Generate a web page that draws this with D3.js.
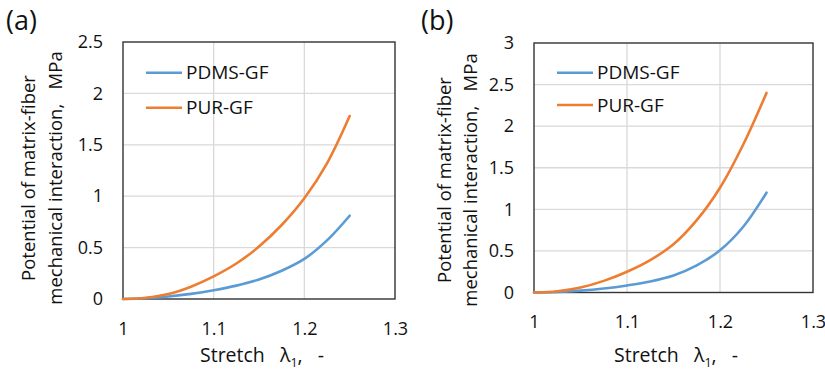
<!DOCTYPE html>
<html>
<head>
<meta charset="utf-8">
<script src="https://cdn.jsdelivr.net/npm/d3@7"></script>
<style>
  body { margin: 0; background: #fff; }
  text { font-family: "Open Sans", sans-serif; fill: #111; white-space: pre; }
</style>
</head>
<body>
<div class="svg-container"></div>
<script>
// stretch values (x) shared by both panels
let stretch = [1, 1.025, 1.05, 1.075, 1.1, 1.125, 1.15, 1.175, 1.2, 1.225, 1.25];

// panel (a)
let pdmsA = [0, 0.008, 0.025, 0.05, 0.085, 0.13, 0.19, 0.275, 0.39, 0.57, 0.81];
let purA  = [0, 0.012, 0.048, 0.12, 0.22, 0.345, 0.51, 0.72, 0.98, 1.32, 1.78];

// panel (b)
let pdmsB = [0, 0.006, 0.022, 0.048, 0.085, 0.133, 0.205, 0.326, 0.507, 0.79, 1.20];
let purB  = [0, 0.015, 0.06, 0.14, 0.25, 0.39, 0.58, 0.87, 1.26, 1.78, 2.40];

let seriesNames = ["PDMS-GF", "PUR-GF"];
let seriesColors = ["#5b9bd5", "#ed7d31"];
let xTicks = [1, 1.1, 1.2, 1.3];
let yTicksA = [0, 0.5, 1, 1.5, 2, 2.5];
let yTicksB = [0, 0.5, 1, 1.5, 2, 2.5, 3];

let width = 825;
let height = 371;

let svg = d3.select(".svg-container")
    .append("svg")
    .attr("width", width)
    .attr("height", height);

function drawPanel(p)
{
    let x = d3.scaleLinear().domain([1, 1.3]).range([p.left, p.right]);
    let y = d3.scaleLinear().domain([0, p.yMax]).range([p.bottom, p.top]);

    let g = svg.append("g");

    // gridlines
    g.append("g").selectAll("line.gx")
        .data(xTicks.slice(1, -1))
        .enter().append("line")
        .attr("x1", d => x(d)).attr("x2", d => x(d))
        .attr("y1", p.top).attr("y2", p.bottom)
        .attr("stroke", "#d9d9d9").attr("stroke-width", 1.3);
    g.append("g").selectAll("line.gy")
        .data(p.yTicks.slice(1, -1))
        .enter().append("line")
        .attr("x1", p.left).attr("x2", p.right)
        .attr("y1", d => y(d)).attr("y2", d => y(d))
        .attr("stroke", "#d9d9d9").attr("stroke-width", 1.3);

    // frame
    g.append("rect")
        .attr("x", p.left).attr("y", p.top)
        .attr("width", p.right - p.left).attr("height", p.bottom - p.top)
        .attr("fill", "none").attr("stroke", "#333").attr("stroke-width", 1.4);

    // axes (labels only)
    let yAxis = g.append("g")
        .attr("transform", "translate(" + (p.left - 20) + ",0)")
        .call(d3.axisLeft(y).tickValues(p.yTicks).tickSize(0).tickPadding(0).tickFormat(d3.format("")));
    let xAxis = g.append("g")
        .attr("transform", "translate(0," + (p.bottom + 23) + ")")
        .call(d3.axisBottom(x).tickValues(xTicks).tickSize(0).tickPadding(0).tickFormat(d3.format("")));
    [xAxis, yAxis].forEach(a => {
        a.select(".domain").remove();
        a.selectAll("text")
            .style("font-family", "Open Sans, sans-serif")
            .style("font-size", "18px")
            .attr("fill", "#111");
    });

    // curves
    let line = d3.line()
        .x((d, i) => x(stretch[i]))
        .y(d => y(d))
        .curve(d3.curveCatmullRom.alpha(0.5));
    p.series.forEach((s, i) => {
        g.append("path")
            .datum(s)
            .attr("d", line)
            .attr("fill", "none")
            .attr("stroke", seriesColors[i])
            .attr("stroke-width", 2.6)
            .attr("stroke-linecap", "round");
    });

    // legend
    seriesNames.forEach((name, i) => {
        let ly = p.legendY[i];
        g.append("line")
            .attr("x1", p.legendX).attr("x2", p.legendX + 36)
            .attr("y1", ly).attr("y2", ly)
            .attr("stroke", seriesColors[i]).attr("stroke-width", 2.6);
        g.append("text")
            .attr("x", p.legendX + 40).attr("y", ly)
            .attr("dy", "0.35em")
            .style("font-size", "19px")
            .text(name);
    });

    // panel label
    g.append("text")
        .attr("x", p.labelX).attr("y", 30)
        .style("font-size", "27px")
        .text(p.label);

    // y title, two lines
    let cy = p.titleCY;
    g.append("text")
        .attr("transform", "translate(" + p.titleX[0] + "," + cy + ") rotate(-90)")
        .attr("text-anchor", "middle")
        .style("font-size", "18.5px")
        .text("Potential of matrix-fiber");
    g.append("text")
        .attr("transform", "translate(" + p.titleX[1] + "," + cy + ") rotate(-90)")
        .attr("text-anchor", "middle")
        .style("font-size", "18.5px")
        .text("mechanical interaction,   MPa");

    // x title
    let xt = g.append("text")
        .attr("x", p.xTitleX).attr("y", 362)
        .style("font-size", "19.5px");
    xt.append("tspan").text("Stretch   λ");
    xt.append("tspan").attr("dy", 5).style("font-size", "12.5px").text("1");
    xt.append("tspan").attr("dy", -5).text(",   -");
}

drawPanel({
    label: "(a)", labelX: 6,
    left: 123, right: 395, top: 42, bottom: 299, yMax: 2.5,
    yTicks: yTicksA,
    series: [pdmsA, purA],
    legendX: 146, legendY: [72.7, 107.7],
    titleX: [35, 62], titleCY: 178,
    xTitleX: 200
});

drawPanel({
    label: "(b)", labelX: 421,
    left: 534, right: 813, top: 43, bottom: 292.5, yMax: 3,
    yTicks: yTicksB,
    series: [pdmsB, purB],
    legendX: 557, legendY: [72.7, 105],
    titleX: [451, 477], titleCY: 180,
    xTitleX: 614
});
</script>
</body>
</html>
